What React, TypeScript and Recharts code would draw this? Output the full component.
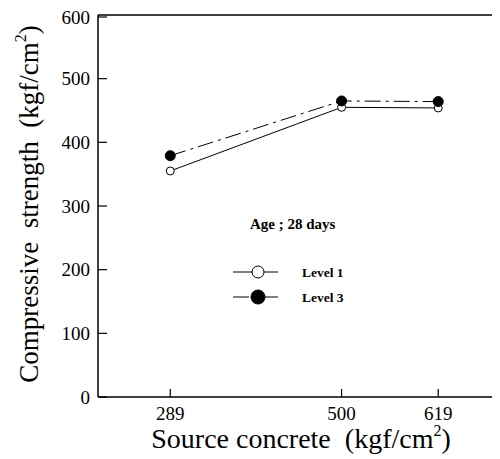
import { LineChart, Line, XAxis, YAxis, ReferenceLine } from 'recharts'

const sourceStrength = [289, 500, 619]
const level1 = [355, 455, 454]
const level3 = [379, 465, 464]
const yTicks = [0, 100, 200, 300, 400, 500, 600]

const data = sourceStrength.map((x, i) => ({ x, level1: level1[i], level3: level3[i] }))

const FONT = "'Liberation Serif', 'Times New Roman', serif"
const PLOT_LEFT = 90
const PLOT_BOTTOM = 389

const series = [
  { key: 'level1', label: 'Level 1', filled: false, dash: undefined as string | undefined },
  { key: 'level3', label: 'Level 3', filled: true, dash: '16 5 3 5' },
]

function YTick(props: any) {
  const { y, payload } = props
  return (
    <g>
      <line x1={PLOT_LEFT} x2={PLOT_LEFT + 9} y1={y} y2={y} stroke="#000" strokeWidth={1.2} />
      <text x={PLOT_LEFT - 8} y={y} dy="0.35em" textAnchor="end" style={{ fontFamily: FONT }} fontSize={19} fill="#000">
        {payload.value}
      </text>
    </g>
  )
}

function XTick(props: any) {
  const { x, payload } = props
  return (
    <g>
      <line x1={x} x2={x} y1={PLOT_BOTTOM} y2={PLOT_BOTTOM - 8} stroke="#000" strokeWidth={1.2} />
      <text x={x} y={PLOT_BOTTOM + 16} dy="0.35em" textAnchor="middle" style={{ fontFamily: FONT }} fontSize={19} fill="#000">
        {payload.value}
      </text>
    </g>
  )
}

function Dot(filled: boolean) {
  return (props: any) => {
    const { cx, cy, index } = props
    return (
      <circle
        key={index}
        cx={cx}
        cy={cy}
        r={filled ? 5 : 4}
        fill={filled ? '#000' : '#fff'}
        stroke="#000"
        strokeWidth={1}
      />
    )
  }
}

function LegendBox() {
  return (
    <svg width={140} height={110} style={{ display: 'block', overflow: 'visible' }}>
      <text x={25} y={19} dy="0.35em" style={{ fontFamily: FONT }} fontWeight="bold" fontSize={15} fill="#000">
        Age ; 28 days
      </text>
      {series.map((s, i) => {
        const y = 67 + i * 25
        return (
          <g key={s.key}>
            <line x1={8} x2={53} y1={y} y2={y} stroke="#000" strokeWidth={1} strokeDasharray={s.dash} />
            <circle cx={33} cy={y} r={s.filled ? 7 : 6} fill={s.filled ? '#000' : '#fff'} stroke="#000" strokeWidth={1} />
            <text x={77} y={y} dy="0.35em" style={{ fontFamily: FONT }} fontWeight="bold" fontSize={13.5} fill="#000">
              {s.label}
            </text>
          </g>
        )
      })}
    </svg>
  )
}

export default function App() {
  return (
    <div style={{ width: 492, height: 451, overflow: 'hidden', position: 'relative' }}>
      <LineChart width={496} height={451} data={data} margin={{ top: 7, right: 0, bottom: 0, left: 0 }}>
        <XAxis
          type="number"
          dataKey="x"
          domain={[200, 700]}
          ticks={sourceStrength}
          height={62}
          tickLine={false}
          axisLine={{ stroke: '#000', strokeWidth: 1.5 }}
          tick={<XTick />}
          label={{
            content: () => (
              <text x={293} y={440} textAnchor="middle" style={{ fontFamily: FONT, whiteSpace: 'pre' }} fontSize={28} fill="#000">
                {'Source concrete  (kgf/cm'}
                <tspan dy={-12} fontSize={16}>2</tspan>
                <tspan dy={12}>)</tspan>
              </text>
            ),
          }}
        />
        <YAxis
          type="number"
          domain={[0, 600]}
          ticks={yTicks}
          width={90}
          tickLine={false}
          axisLine={{ stroke: '#000', strokeWidth: 1.5 }}
          tick={<YTick />}
          label={{
            content: () => (
              <text
                x={30}
                y={196}
                transform="rotate(-90 30 196)"
                textAnchor="middle"
                style={{ fontFamily: FONT, whiteSpace: 'pre' }}
                fontSize={27}
                fill="#000"
              >
                {'Compressive  strength  (kgf/cm'}
                <tspan dy={-12} fontSize={16}>2</tspan>
                <tspan dy={12}>)</tspan>
              </text>
            ),
          }}
        />
        <ReferenceLine y={600} stroke="#000" strokeWidth={1.5} ifOverflow="visible" />
        {series.map((s) => (
          <Line
            key={s.key}
            dataKey={s.key}
            stroke="#000"
            strokeWidth={1}
            strokeDasharray={s.dash}
            dot={Dot(s.filled)}
            activeDot={false}
            isAnimationActive={false}
          />
        ))}
      </LineChart>
      <div style={{ position: 'absolute', left: 217, top: 197 }}>
        <LegendBox />
      </div>
    </div>
  )
}
